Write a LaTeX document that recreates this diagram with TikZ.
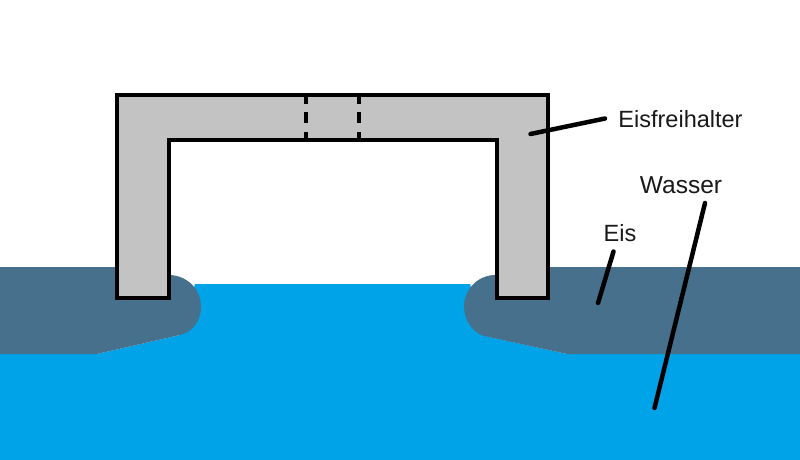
\documentclass[tikz,border=0pt]{standalone}
\usepackage{fontspec}
\setmainfont{Liberation Sans}
\definecolor{water}{HTML}{00A2E8}
\definecolor{ice}{HTML}{46708C}
\definecolor{steel}{HTML}{C3C3C3}
\tikzset{
  frameline/.style={draw=black,line width=4.5pt,fill=steel,line join=miter},
  seam/.style={black,line width=4.5pt,dash pattern=on 7pt off 8pt on 11pt off 9pt on 8pt},
  leader/.style={black,line width=4.5pt,line cap=round},
  lbl/.style={inner sep=0pt,anchor=base,font=\fontsize{23.5}{26}\selectfont,text=black!90}
}
\begin{document}
\begin{tikzpicture}[x=1pt,y=-1pt]
\useasboundingbox (0,0) rectangle (800,460);
\fill[white] (0,0) rectangle (800,460);
% water
\fill[water] (0,354) -- (97,354) -- (180,335) -- (195,284) -- (470,284) -- (485,336) -- (567,354) -- (800,354) -- (800,460) -- (0,460) -- cycle;
% ice
\fill[ice] (0,267) -- (120,267) -- (120,276) -- (170,275)
  .. controls (189,276) and (201,291) .. (201,306)
  .. controls (201,322) and (192,332) .. (180,335)
  -- (97,354) -- (0,354) -- cycle;
\fill[ice] (800,267) -- (540,267) -- (540,276) -- (494,275)
  .. controls (476,276) and (464,291) .. (464,306)
  .. controls (464,320) and (472,332) .. (484,336)
  -- (567,354) -- (800,354) -- cycle;
% frame
\draw[frameline] (117,95) -- (548,95) -- (548,298) -- (497,298) -- (497,140) -- (169,140) -- (169,298) -- (117,298) -- cycle;
\coordinate (sa) at (306,97);
\coordinate (sb) at (306,140);
\coordinate (sc) at (359,97);
\coordinate (sd) at (359,140);
\draw[seam] (sa) -- (sb);
\draw[seam] (sc) -- (sd);
% labels
\node[lbl] (lf) at (680.5,127) {Eisfreihalter};
\node[lbl,font=\fontsize{24.5}{26}\selectfont] (lw) at (681,193) {Wasser};
\node[lbl] (le) at (620,241) {Eis};
\coordinate (fa) at (605,118.5);
\coordinate (fb) at (530.5,134);
\coordinate (wa) at (705,203);
\coordinate (wb) at (654.5,408);
\coordinate (ea) at (613.5,251.5);
\coordinate (eb) at (598,303);
\draw[leader] (fa) -- (fb);
\draw[leader] (wa) -- (wb);
\draw[leader] (ea) -- (eb);
\end{tikzpicture}
\end{document}
